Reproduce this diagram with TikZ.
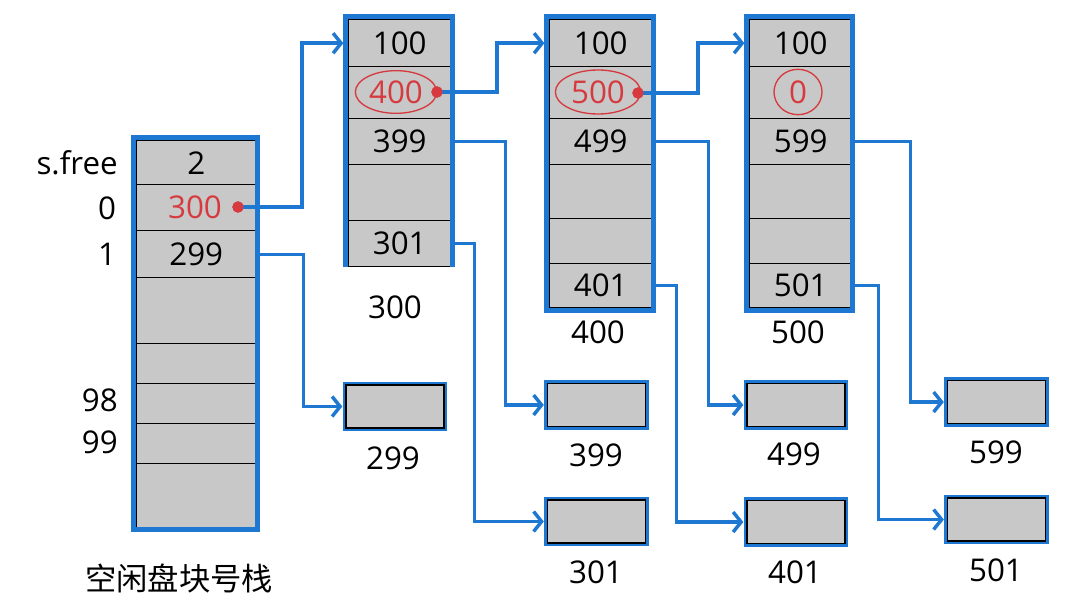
\documentclass[tikz,border=0pt]{standalone}
\usepackage{fontspec}
\setmainfont{Open Sans}
\newfontfamily\cjk{Noto Sans CJK SC}
\usetikzlibrary{arrows.meta,calc}
\definecolor{lb}{HTML}{1E78D2}
\definecolor{cg}{HTML}{C8C8C8}
\definecolor{rd}{HTML}{D63A3F}
\begin{document}
\begin{tikzpicture}[x=0.75pt,y=-0.75pt,
  cell/.style={draw=black, line width=1.1pt, fill=cg, inner sep=0pt, anchor=north west, font=\fontsize{23.5}{25}\selectfont},
  bw/.style={minimum width=76.5pt},
  sw/.style={minimum width=89.25pt},
  frame/.style={draw=lb, line width=4pt},
  sbox/.style={draw=black, line width=1.1pt, fill=cg, inner sep=0pt, minimum width=73.5pt, minimum height=32.25pt, preaction={draw=lb, line width=4.8pt}},
  link/.style={draw=lb, line width=2.6pt, -{Straight Barb[length=6pt,width=15pt]}},
  lbl/.style={font=\fontsize{23.5}{25}\selectfont, inner sep=0pt},
  rtxt/.style={font=\fontsize{23.5}{25}\selectfont, inner sep=0pt, text=rd},
  rdot/.style={circle, fill=rd, inner sep=0pt, minimum size=8.5pt},
  ring/.style={draw=rd, line width=1pt},
]
\useasboundingbox (0,0) rectangle (1080,613);

% ---- free block stack ----
\node[cell, sw, minimum height=33pt]    (s0) at (136,140) {2};
\node[cell, sw, minimum height=34.5pt]  (s1) at (136,184) {};
\node[cell, sw, minimum height=35.25pt] (s2) at (136,230) {299};
\node[cell, sw, minimum height=49.5pt]  (s3) at (136,277) {};
\node[cell, sw, minimum height=30pt]    (s4) at (136,343) {};
\node[cell, sw, minimum height=30pt]    (s5) at (136,383) {};
\node[cell, sw, minimum height=30pt]    (s6) at (136,423) {};
\node[cell, sw, minimum height=48pt]    (s7) at (136,463) {};
\node[rtxt] (s1t) at (195,207) {300};
\node[lbl, anchor=east] (lsf) at (118,163) {s.free};
\node[lbl] (l0) at (107,208) {0};
\node[lbl] (l1) at (107,254) {1};
\node[lbl, anchor=east] (l98) at (118,400) {98};
\node[lbl, anchor=east] (l99) at (118,442) {99};
\node[inner sep=0pt, font=\cjk\fontsize{23.5}{25}\selectfont] (title) at (179,578) {空闲盘块号栈};

% ---- block 300 ----
\node[cell, bw, minimum height=35.25pt] (a0) at (348,19) {100};
\node[cell, bw, minimum height=39pt]    (a1) at (348,66) {};
\node[cell, bw, minimum height=34.5pt]  (a2) at (348,118) {399};
\node[cell, bw, minimum height=42pt]    (a3) at (348,164) {};
\node[cell, bw, minimum height=34.5pt]  (a4) at (348,220) {301};
\node[rtxt] (a1t) at (396,92) {400};
\draw[ring] (a1t) ellipse (30.5pt and 16pt);
\node[lbl] (la) at (395,307) {300};

% ---- block 400 ----
\node[cell, bw, minimum height=35.25pt] (b0) at (549,19) {100};
\node[cell, bw, minimum height=39pt]    (b1) at (549,66) {};
\node[cell, bw, minimum height=34.5pt]  (b2) at (549,118) {499};
\node[cell, bw, minimum height=40.5pt]  (b3) at (549,164) {};
\node[cell, bw, minimum height=33.75pt] (b4) at (549,218) {};
\node[cell, bw, minimum height=33pt]    (b5) at (549,263) {401};
\node[rtxt] (b1t) at (598,92) {500};
\draw[ring] (b1t) ellipse (32pt and 16.5pt);
\node[lbl] (lb4) at (598,332) {400};

% ---- block 500 ----
\node[cell, bw, minimum height=35.25pt] (c0) at (749,19) {100};
\node[cell, bw, minimum height=39pt]    (c1) at (749,66) {};
\node[cell, bw, minimum height=34.5pt]  (c2) at (749,118) {599};
\node[cell, bw, minimum height=40.5pt]  (c3) at (749,164) {};
\node[cell, bw, minimum height=33.75pt] (c4) at (749,218) {};
\node[cell, bw, minimum height=33pt]    (c5) at (749,263) {501};
\node[rtxt] (c1t) at (798,92) {0};
\draw[ring] (c1t) ellipse (18pt and 17pt);
\node[lbl] (lc) at (798,332) {500};

% ---- single blocks ----
\node[sbox] (x299) at (395,406.5) {};
\node[sbox] (x399) at (596.5,405) {};
\node[sbox] (x301) at (596.5,521.5) {};
\node[sbox] (x499) at (796,405) {};
\node[sbox] (x401) at (796,522) {};
\node[sbox] (x599) at (996.5,402) {};
\node[sbox] (x501) at (996.5,519.5) {};
\node[lbl] (t299) at (393,458) {299};
\node[lbl] (t399) at (596,455) {399};
\node[lbl] (t301) at (596,572) {301};
\node[lbl] (t499) at (794,454) {499};
\node[lbl] (t401) at (795,572) {401};
\node[lbl] (t599) at (996,452) {599};
\node[lbl] (t501) at (996,570) {501};

% ---- red dots ----
\node[rdot] (sd) at (238,207) {};
\node[rdot] (ad) at (437,92) {};
\node[rdot] (bd) at (638,93) {};

% ---- links ----
\draw[link] (sd.center) -- ++(64,0) |- ([xshift=-3.5pt]a0.west);
\draw[link] (s2.east) -- ++(47,0) |- ([xshift=-2.2pt]x299.west);
\draw[link] (ad.center) -- ++(60,0) |- ([xshift=-3.5pt]b0.west);
\draw[link] (a2.east) -- ++(54,0) |- ([xshift=-2.2pt]x399.west);
\draw[link] (a4.east) -- ++(23,0) |- ([xshift=-2.2pt]x301.west);
\draw[link] (bd.center) -- ++(60,0) |- ([xshift=-3.5pt]c0.west);
\draw[link] (b2.east) -- ++(56,0) |- ([xshift=-2.2pt]x499.west);
\draw[link] (b5.east) -- ++(24,0) |- ([xshift=-2.2pt]x401.west);
\draw[link] (c2.east) -- ++(58,0) |- ([xshift=-2.2pt]x599.west);
\draw[link] (c5.east) -- ++(26,0) |- ([xshift=-2.2pt]x501.west);

% ---- blue frames ----
\draw[frame] (133.5,137.5) rectangle (257.5,529.5);
\draw[frame] (345.5,267) -- (345.5,16.5) -- (452.5,16.5) -- (452.5,267);
\draw[frame] (546.5,16.5) rectangle (653.5,310.5);
\draw[frame] (746.5,16.5) rectangle (852.5,310.5);

% redraw dots on top of frames
\node[rdot] at (sd) {};
\node[rdot] at (ad) {};
\node[rdot] at (bd) {};
\end{tikzpicture}
\end{document}
